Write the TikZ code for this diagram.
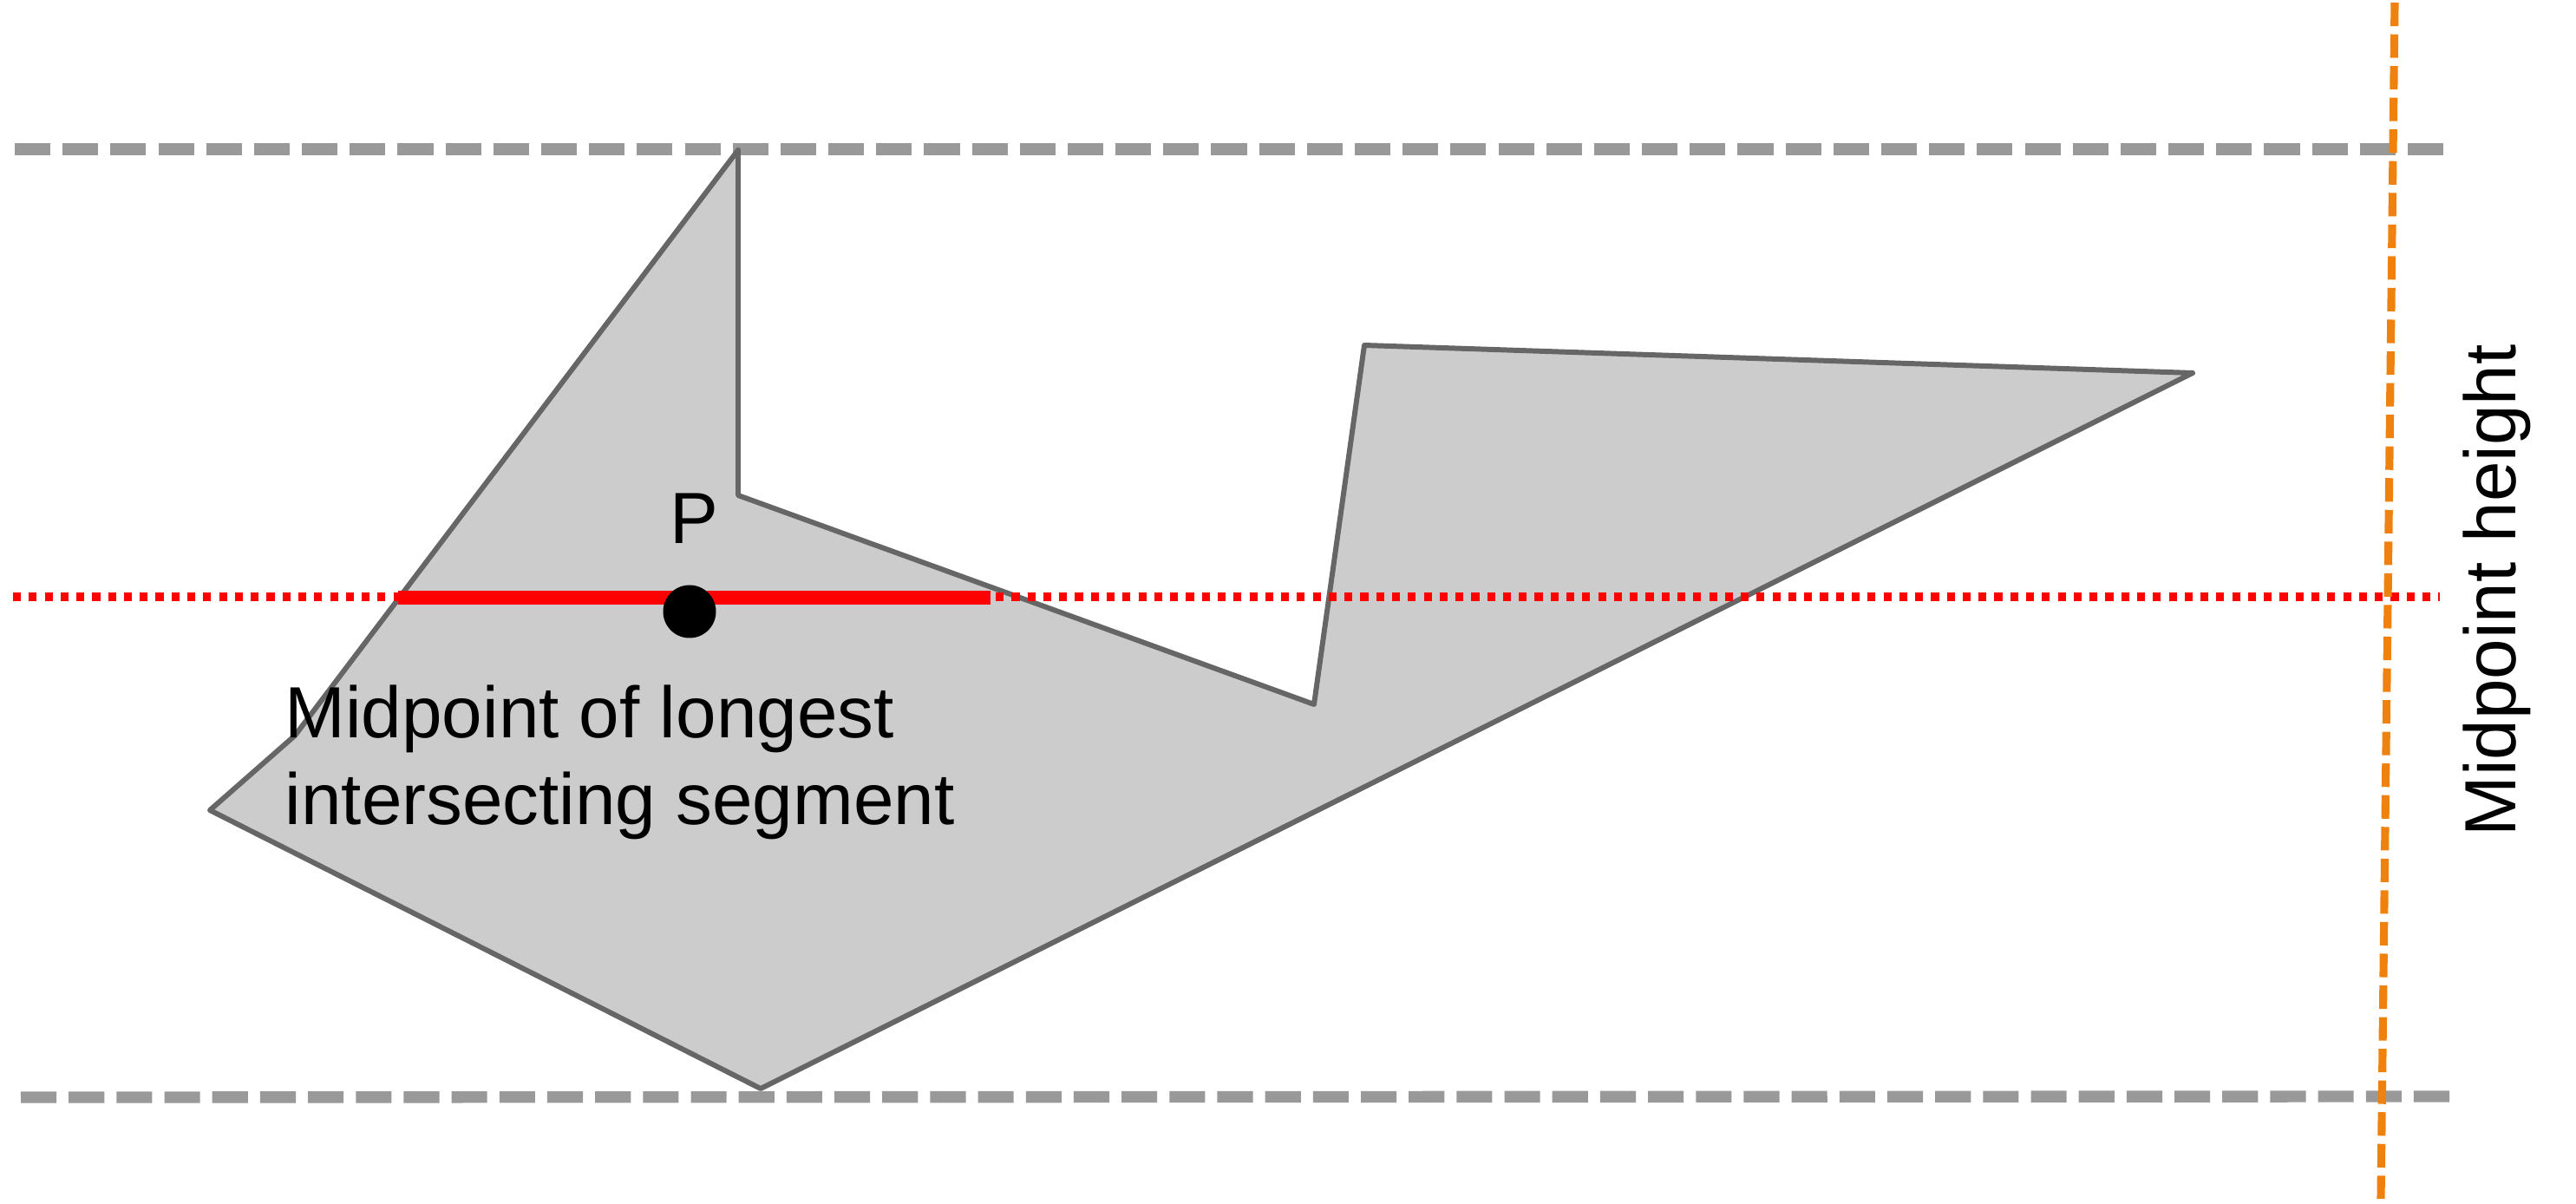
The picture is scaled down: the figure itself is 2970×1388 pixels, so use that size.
\documentclass[tikz,border=0pt]{standalone}
\usepackage{fontspec}
\setmainfont{Liberation Sans}
\usepackage{tikz}
\usetikzlibrary{positioning}
\definecolor{edgegray}{HTML}{666666}
\definecolor{fillgray}{HTML}{CCCCCC}
\definecolor{boundgray}{HTML}{999999}
\definecolor{midorange}{RGB}{239,130,14}
\tikzstyle{bound}=[boundgray,line width=3.8pt,dash pattern=on 11.7pt off 4pt]
\tikzstyle{hline}=[red,line width=2.6pt,dash pattern=on 2.6pt off 2.6pt]
\tikzstyle{vline}=[midorange,line width=2.6pt,dash pattern=on 7.7pt off 2.7pt]
\tikzstyle{poly}=[draw=edgegray,fill=fillgray,line width=1.7pt,line join=round]
\tikzstyle{seg}=[red,line width=4.8pt]
\tikzstyle{dot}=[circle,fill=black,inner sep=0pt,minimum size=6.1mm]
\tikzstyle{lbl}=[inner sep=0pt,font=\fontsize{23.8}{28.6}\selectfont]

\begin{document}
\begin{tikzpicture}[x=0.1mm,y=-0.1mm]
\useasboundingbox (0,0) rectangle (2970,1388);
\coordinate (tl) at (17,172);
\coordinate (tr) at (2823,172);
\coordinate (bl) at (24,1265);
\coordinate (br) at (2829,1264);
\draw[bound] (tl) -- (tr);
\draw[bound] (bl) -- (br);
\coordinate (a) at (851,173);
\coordinate (b) at (851,571);
\coordinate (c) at (1515,812);
\coordinate (d) at (1573,398);
\coordinate (e) at (2528,430);
\coordinate (f) at (877,1255);
\coordinate (g) at (242,934);
\coordinate (h) at (340,848);
\draw[poly] (a) -- (b) -- (c) -- (d) -- (e) -- (f) -- (g) -- (h) -- cycle;
\coordinate (ml) at (15,688);
\coordinate (mr) at (2813,688);
\draw[hline] (ml) -- (mr);
\coordinate (s1) at (459,689);
\coordinate (s2) at (1142,689);
\draw[seg] (s1) -- (s2);
\node[dot] (p) at (795,705) {};
\node[lbl,anchor=base] (plbl) at (800,627) {P};
\node[lbl,align=left,anchor=base west] (mlbl) at (328,951) {Midpoint of longest\\intersecting segment};
\coordinate (vt) at (2761,3);
\coordinate (vb) at (2745,1382);
\draw[vline] (vt) -- (vb);
\node[lbl,rotate=90,anchor=base] (hlbl) at (2900,681) {Midpoint height};
\end{tikzpicture}
\end{document}
